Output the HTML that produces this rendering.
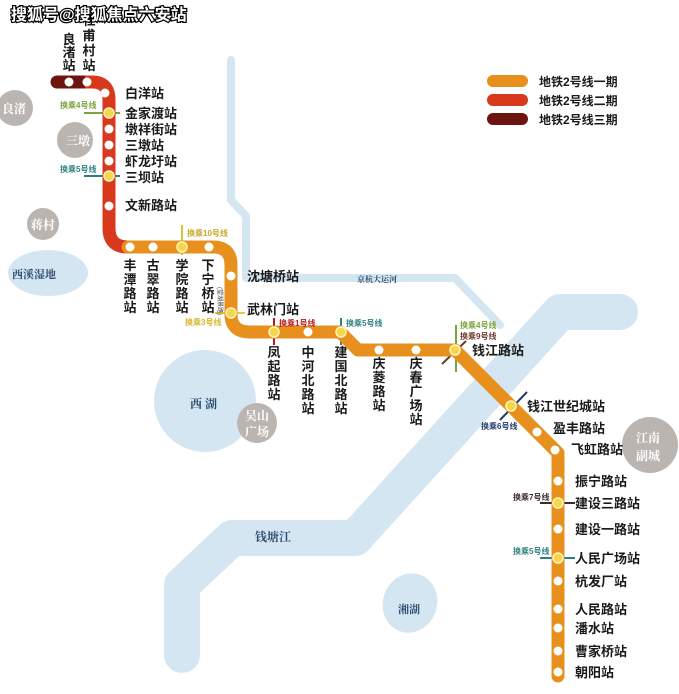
<!DOCTYPE html>
<html><head><meta charset="utf-8"><style>
html,body{margin:0;padding:0;background:#fff;}
svg{display:block;}
text{font-family:"Liberation Sans","Noto Sans CJK SC",sans-serif;}
.s{font-size:13px;font-weight:bold;fill:#1a1a1a;}
.v{font-size:13px;font-weight:bold;fill:#1a1a1a;}
.g{font-family:"Noto Serif CJK SC",serif;font-size:12px;fill:#fff;font-weight:bold;}
.w{font-family:"Noto Serif CJK SC",serif;font-size:12px;fill:#2c4a6e;font-weight:bold;}
.t{font-size:8px;font-weight:bold;}
</style></head><body>
<svg width="679" height="694" viewBox="0 0 679 694" xmlns="http://www.w3.org/2000/svg">
<!-- water -->
<g fill="none" stroke="#d5e6f3" stroke-linecap="round" stroke-linejoin="round">
<polyline points="231,60 231,200 246,216 246,278 455,278 500,325" stroke-width="8"/>
<polyline points="620,312 560,312 355,538 232,538 182,585 182,655" stroke-width="36"/>
</g>
<circle cx="205" cy="401" r="51" fill="#d5e6f3"/>
<ellipse cx="48" cy="273" rx="40" ry="23" fill="#d5e6f3"/>
<ellipse cx="410" cy="603" rx="27" ry="30" transform="rotate(20 410 603)" fill="#d5e6f3"/>
<text x="190" y="408" class="w">西  湖</text>
<text x="12" y="278" class="w" style="font-size:11px">西溪湿地</text>
<text x="255" y="541" class="w">钱塘江</text>
<text x="398" y="613" class="w" style="font-size:11px">湘湖</text>
<text x="357" y="282" class="w" style="font-size:8px">京杭大运河</text>
<!-- gray circles -->
<g fill="#bbb5b2">
<circle cx="15" cy="108" r="18"/><circle cx="75" cy="140" r="18"/><circle cx="43" cy="224" r="16"/>
<circle cx="257" cy="423" r="20"/><circle cx="650" cy="445" r="28"/>
</g>
<text x="2" y="113" class="g">良渚</text>
<text x="66" y="145" class="g">三墩</text>
<text x="31" y="229" class="g">蒋村</text>
<text x="245" y="420" class="g">吴山</text><text x="245" y="436" class="g">广场</text>
<text x="636" y="442" class="g">江南</text><text x="636" y="460" class="g">副城</text>
<!-- interchange ticks -->
<g stroke-width="2">
<line x1="84" y1="113" x2="120" y2="113" stroke="#7aa33a"/>
<line x1="84" y1="176" x2="120" y2="176" stroke="#2e7f7f"/>
<line x1="182" y1="225" x2="182" y2="255" stroke="#d8c23a"/>
<line x1="215" y1="313" x2="245" y2="313" stroke="#e9c93a"/>
<line x1="274" y1="318" x2="274" y2="345" stroke="#b21d1d"/>
<line x1="341" y1="318" x2="341" y2="345" stroke="#2e7f7f"/>
<line x1="456" y1="325" x2="456" y2="372" stroke="#7aa33a"/>
<line x1="442" y1="364" x2="466" y2="341" stroke="#6b3a2a"/>
<line x1="500" y1="420" x2="527" y2="392" stroke="#1f3d6b"/>
<line x1="540" y1="503" x2="575" y2="503" stroke="#3a2a2a"/>
<line x1="540" y1="558" x2="575" y2="558" stroke="#2e7f7f"/>
</g>
<!-- line -->
<g fill="none" stroke-width="13" stroke-linecap="round" stroke-linejoin="round">
<line x1="57" y1="82" x2="85" y2="82" stroke="#6e1410"/>
<path d="M85,82 L92,82 Q109,82 109,100 L109,228 Q109,247 128,247" stroke="#d8381c" stroke-linecap="butt"/>
<path d="M128,247 L213,247 Q231,247 231,265 L231,314 Q231,332 250,332 L340,332 L358,350 L455,350 L558,453 L558,676" stroke="#e8901e"/>
</g>
<!-- stations -->
<g fill="#fff">
<circle cx="69" cy="82" r="4.5"/><circle cx="87" cy="82" r="4.5"/><circle cx="105" cy="93" r="4.5"/>
<circle cx="109" cy="129" r="4.5"/><circle cx="109" cy="145" r="4.5"/><circle cx="109" cy="161" r="4.5"/><circle cx="109" cy="206" r="4.5"/>
<circle cx="130" cy="247" r="4.5"/><circle cx="153" cy="247" r="4.5"/><circle cx="209" cy="247" r="4.5"/>
<circle cx="231" cy="276" r="4.5"/><circle cx="308" cy="332" r="4.5"/><circle cx="379" cy="350" r="4.5"/><circle cx="416" cy="350" r="4.5"/>
<circle cx="537" cy="432" r="4.5"/><circle cx="555" cy="450" r="4.5"/>
<circle cx="558" cy="481" r="4.5"/><circle cx="558" cy="529" r="4.5"/><circle cx="558" cy="581" r="4.5"/><circle cx="558" cy="609" r="4.5"/>
<circle cx="558" cy="628" r="4.5"/><circle cx="558" cy="651" r="4.5"/><circle cx="558" cy="672" r="4.5"/>
</g>
<g fill="#f7d64a" stroke="#fff6c0" stroke-width="1.5">
<circle cx="109" cy="113" r="5"/><circle cx="109" cy="176" r="5"/><circle cx="182" cy="247" r="5"/><circle cx="231" cy="313" r="5"/>
<circle cx="274" cy="332" r="5"/><circle cx="341" cy="332" r="5"/><circle cx="455" cy="350" r="5"/><circle cx="511" cy="406" r="5"/>
<circle cx="558" cy="503" r="5"/><circle cx="558" cy="558" r="5"/>
</g>
<!-- right labels -->
<g class="s">
<text x="125" y="98">白洋站</text><text x="125" y="118">金家渡站</text><text x="125" y="134">墩祥街站</text>
<text x="125" y="150">三墩站</text><text x="125" y="166">虾龙圩站</text><text x="125" y="182">三坝站</text>
<text x="125" y="210">文新路站</text>
<text x="247" y="281">沈塘桥站</text><text x="247" y="314">武林门站</text>
<text x="472" y="355">钱江路站</text><text x="527" y="411">钱江世纪城站</text>
<text x="553" y="433">盈丰路站</text><text x="571" y="454">飞虹路站</text>
<text x="575" y="486">振宁路站</text><text x="575" y="508">建设三路站</text><text x="575" y="534">建设一路站</text>
<text x="575" y="563">人民广场站</text><text x="575" y="586">杭发厂站</text><text x="575" y="614">人民路站</text>
<text x="575" y="633">潘水站</text><text x="575" y="656">曹家桥站</text><text x="575" y="677">朝阳站</text>
</g>
<!-- vertical labels -->
<g class="v" text-anchor="middle">
<text x="69" y="44">良</text><text x="69" y="57">渚</text><text x="69" y="70">站</text>
<text x="89" y="25">杜</text><text x="89" y="40">甫</text><text x="89" y="55">村</text><text x="89" y="70">站</text>
<text x="130" y="270">丰</text><text x="130" y="284">潭</text><text x="130" y="298">路</text><text x="130" y="312">站</text>
<text x="153" y="270">古</text><text x="153" y="284">翠</text><text x="153" y="298">路</text><text x="153" y="312">站</text>
<text x="182" y="270">学</text><text x="182" y="284">院</text><text x="182" y="298">路</text><text x="182" y="312">站</text>
<text x="208" y="270">下</text><text x="208" y="284">宁</text><text x="208" y="298">桥</text><text x="208" y="312">站</text>
<text x="274" y="357">凤</text><text x="274" y="371">起</text><text x="274" y="385">路</text><text x="274" y="399">站</text>
<text x="308" y="357">中</text><text x="308" y="371">河</text><text x="308" y="385">北</text><text x="308" y="399">路</text><text x="308" y="413">站</text>
<text x="341" y="357">建</text><text x="341" y="371">国</text><text x="341" y="385">北</text><text x="341" y="399">路</text><text x="341" y="413">站</text>
<text x="379" y="368">庆</text><text x="379" y="382">菱</text><text x="379" y="396">路</text><text x="379" y="410">站</text>
<text x="416" y="368">庆</text><text x="416" y="382">春</text><text x="416" y="396">广</text><text x="416" y="410">场</text><text x="416" y="424">站</text>
</g>
<text x="218" y="287" font-size="6" fill="#444" transform="rotate(90 218 287)">(望湖景路)</text>
<!-- interchange labels -->
<text x="60" y="108" class="t" fill="#7aa33a">换乘4号线</text>
<text x="60" y="172" class="t" fill="#2e7f7f">换乘5号线</text>
<text x="187" y="236" class="t" fill="#c9a92a">换乘10号线</text>
<text x="185" y="325" class="t" fill="#d9b62a">换乘3号线</text>
<text x="279" y="326" class="t" fill="#b21d1d">换乘1号线</text>
<text x="346" y="326" class="t" fill="#2e7f7f">换乘5号线</text>
<text x="460" y="328" class="t" fill="#7aa33a">换乘4号线</text>
<text x="460" y="339" class="t" fill="#6b3a2a">换乘9号线</text>
<text x="481" y="429" class="t" fill="#1f3d6b">换乘6号线</text>
<text x="513" y="500" class="t" fill="#3a2a2a">换乘7号线</text>
<text x="513" y="554" class="t" fill="#2e7f7f">换乘5号线</text>
<!-- legend -->
<rect x="487" y="75" width="41" height="12" rx="6" fill="#e8901e"/>
<rect x="487" y="94" width="41" height="12" rx="6" fill="#d8381c"/>
<rect x="487" y="113" width="41" height="12" rx="6" fill="#6e1410"/>
<g class="s" style="font-size:12px"><text x="539" y="86">地铁2号线一期</text><text x="539" y="105">地铁2号线二期</text><text x="539" y="124">地铁2号线三期</text></g>
<!-- watermark -->
<text x="11" y="20" font-size="16" font-weight="bold" fill="#fff" stroke="#000" stroke-width="2.5" paint-order="stroke">搜狐号@搜狐焦点六安站</text>
</svg>
</body></html>
